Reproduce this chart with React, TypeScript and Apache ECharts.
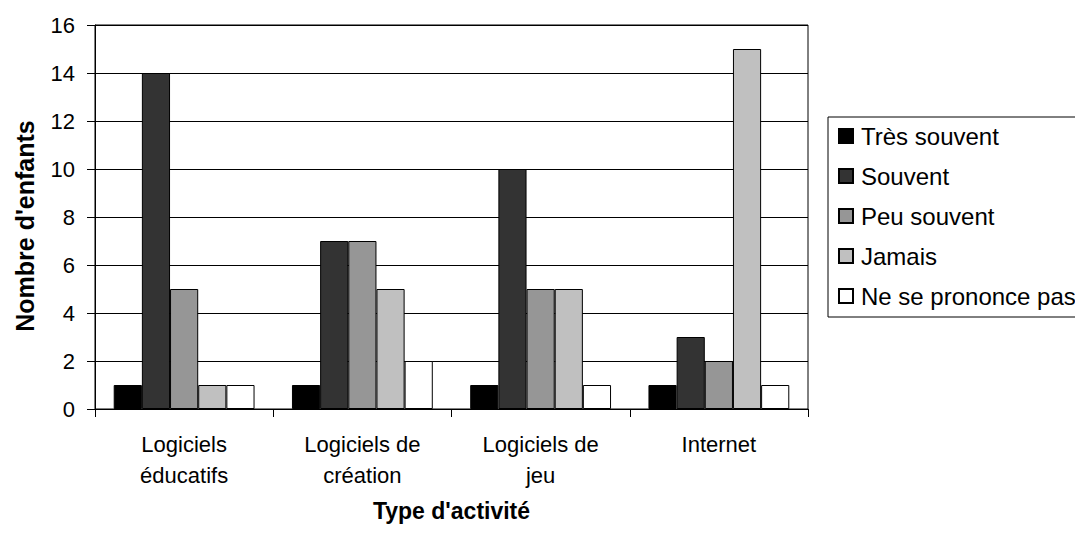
import React, { useEffect, useRef } from "react";
import * as echarts from "echarts";

const categories = ["Logiciels\néducatifs", "Logiciels de\ncréation", "Logiciels de\njeu", "Internet"];
const seriesNames = ["Très souvent", "Souvent", "Peu souvent", "Jamais", "Ne se prononce pas"];
const tresSouvent = [1, 1, 1, 1];
const souvent = [14, 7, 10, 3];
const peuSouvent = [5, 7, 5, 2];
const jamais = [1, 5, 5, 15];
const nePrononce = [1, 2, 1, 1];
const colors = ["#000000", "#333333", "#969696", "#c0c0c0", "#ffffff"];
const yTitle = "Nombre d'enfants";
const xTitle = "Type d'activité";

const FONT = "'Liberation Sans', Arial, sans-serif";

export default function App() {
  const ref = useRef<HTMLDivElement>(null);
  useEffect(() => {
    if (!ref.current) return;
    const chart = echarts.init(ref.current, null, { renderer: "svg" });
    const values = [tresSouvent, souvent, peuSouvent, jamais, nePrononce];
    chart.setOption({
      animation: false,
      backgroundColor: "#ffffff",
      textStyle: { fontFamily: FONT },
      grid: {
        left: 95,
        right: 267,
        top: 25,
        bottom: 124,
        show: true,
        borderColor: "#000",
        borderWidth: 1,
        backgroundColor: "transparent",
        containLabel: false,
        outerBoundsMode: "none",
      },
      graphic: [
        {
          type: "rect",
          shape: { x: 828, y: 117, width: 400, height: 200 },
          style: { fill: "transparent", stroke: "#000", lineWidth: 1 },
          silent: true,
        },
        {
          type: "text",
          x: 25,
          y: 226,
          rotation: Math.PI / 2,
          style: {
            text: yTitle,
            fontSize: 25,
            fontWeight: "bold",
            fontFamily: FONT,
            fill: "#000",
            align: "center",
            verticalAlign: "middle",
          },
          silent: true,
        },
      ],
      legend: {
        orient: "vertical",
        left: 838,
        top: 124,
        padding: 0,
        itemGap: 16,
        itemWidth: 14,
        itemHeight: 14,
        icon: "rect",
        textStyle: { fontSize: 24, color: "#000", fontFamily: FONT, lineHeight: 24, padding: [0, 0, 0, 3] },
        data: seriesNames,
      },
      xAxis: {
        type: "category",
        data: categories,
        name: xTitle,
        nameLocation: "middle",
        nameGap: 90,
        nameTextStyle: { fontSize: 23, fontWeight: "bold", color: "#000", fontFamily: FONT },
        axisLine: { lineStyle: { color: "#000", width: 1 } },
        axisTick: { show: true, length: 8, lineStyle: { color: "#000" } },
        axisLabel: { fontSize: 22, color: "#000", lineHeight: 31, margin: 20, fontFamily: FONT, interval: 0 },
      },
      yAxis: {
        type: "value",
        min: 0,
        max: 16,
        interval: 2,
        axisLine: { show: true, lineStyle: { color: "#000", width: 1 } },
        axisTick: { show: true, length: 8, lineStyle: { color: "#000" } },
        axisLabel: { fontSize: 22, color: "#000", margin: 20, fontFamily: FONT },
        splitLine: { show: true, lineStyle: { color: "#000", width: 1 } },
      },
      series: seriesNames.map((name, i) => ({
        name,
        type: "bar",
        data: values[i],
        barGap: "0%",
        barCategoryGap: "21%",
        itemStyle: { color: colors[i], borderColor: "#000", borderWidth: 1 },
      })),
    });
    return () => chart.dispose();
  }, []);
  return <div ref={ref} style={{ position: "absolute", left: 0, top: 0, width: 1075, height: 533 }} />;
}
